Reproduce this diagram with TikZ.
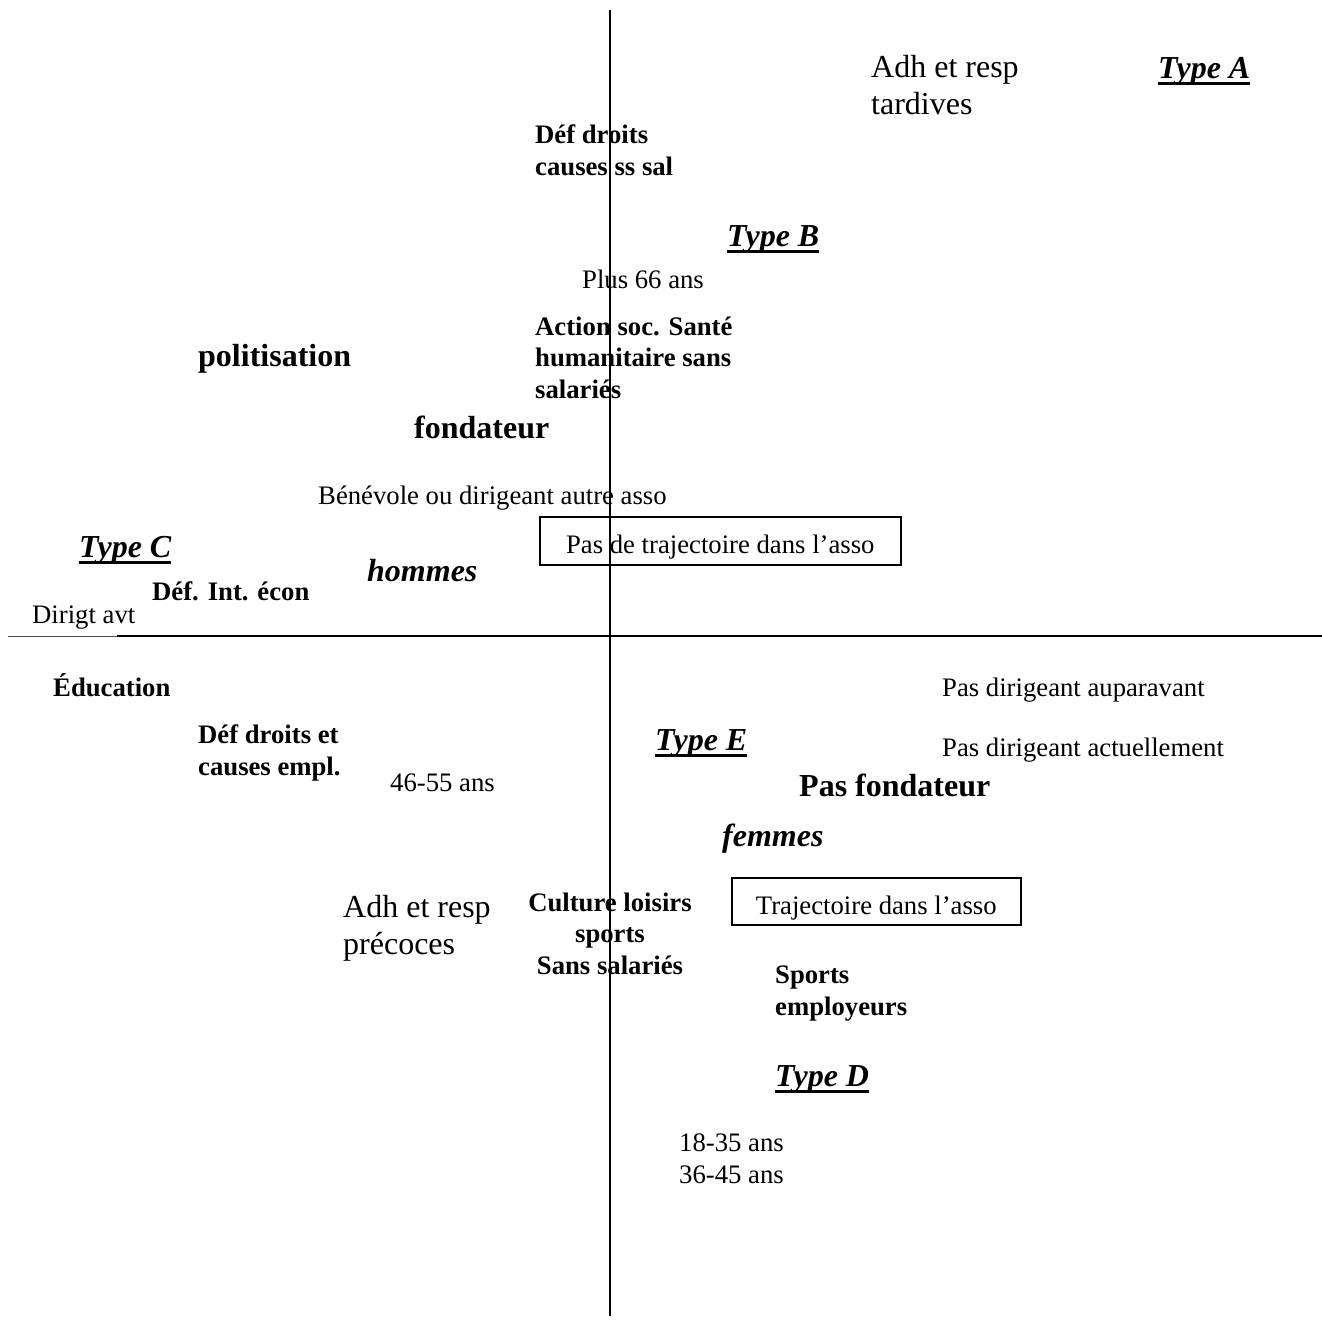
\documentclass[tikz,border=0pt]{standalone}
\usepackage{fontspec}
\setmainfont{Liberation Serif}
\newcommand{\myul}[1]{\setbox0\hbox{#1}\rlap{\rule[-6.8pt]{\wd0}{2.6pt}}\box0}
\begin{document}
\begin{tikzpicture}[x=1pt,y=-1pt,
  lbl/.style={inner sep=0pt, anchor=base west, align=left},
  sm/.style={lbl, font=\fontsize{26.7}{32}\selectfont},
  smb/.style={lbl, font=\fontsize{26.7}{31.5}\selectfont\bfseries},
  bg/.style={lbl, font=\fontsize{32}{37}\selectfont},
  bgb/.style={lbl, font=\fontsize{32}{37}\selectfont\bfseries},
  bgbi/.style={lbl, font=\fontsize{32}{37}\selectfont\bfseries\itshape},
  typ/.style={lbl, font=\fontsize{32}{37}\selectfont\bfseries\itshape},
  axis/.style={line width=1.8pt},
  boxed/.style={draw, line width=1.6pt, inner sep=0pt, anchor=north west, text height=26pt, text depth=0pt, font=\fontsize{26.7}{32}\selectfont}
]
\useasboundingbox (0,0) rectangle (1322,1326);
% axes
\coordinate (vt) at (610,10);
\coordinate (vb) at (610,1316);
\coordinate (hl) at (8,636);
\coordinate (hm) at (117,636);
\coordinate (hr) at (1322,636);
\draw[axis] (vt) -- (vb);
\draw[line width=1pt, black!70] (hl) -- (hm);
\draw[axis] (hm) -- (hr);

% boxes
\node[boxed, minimum width=361pt, minimum height=48pt] (box1) at (539,516) {Pas de trajectoire dans l’asso};
\node[boxed, minimum width=289pt, minimum height=47pt] (box2) at (731,877) {Trajectoire dans l’asso};

% labels (multi-line nodes: base = last line)
\node[bg] (adhT) at (871,114) {Adh et resp\\tardives};
\node[typ] (typeA) at (1158,78) {\myul{Type A}};
\node[smb] (defdr) at (535,175) {Déf droits\\causes ss sal};
\node[typ] (typeB) at (727,246) {\myul{Type B}};
\node[sm] (plus66) at (582,288) {Plus 66 ans};
\node[smb] (action) at (535,398) {Action soc. Santé\\humanitaire sans\\salariés};
\node[bgb] (polit) at (198,366) {politisation};
\node[bgb] (fond) at (414,438) {fondateur};
\node[sm] (benev) at (318,504) {Bénévole ou dirigeant autre asso};
\node[typ] (typeC) at (79,557) {\myul{Type C}};
\node[bgbi] (hommes) at (367,581) {hommes};
\node[smb] (defint) at (152,600) {Déf. Int. écon};
\node[sm] (dirigt) at (32,623) {Dirigt avt};
\node[smb] (educ) at (53,696) {Éducation};
\node[smb] (defdrE) at (198,775) {Déf droits et\\causes empl.};
\node[sm] (a4655) at (390,791) {46-55 ans};
\node[typ] (typeE) at (655,750) {\myul{Type E}};
\node[sm] (pdaup) at (942,696) {Pas dirigeant auparavant};
\node[sm] (pdact) at (942,756) {Pas dirigeant actuellement};
\node[bgb] (pasfond) at (799,796) {Pas fondateur};
\node[bgbi] (femmes) at (722,846) {femmes};
\node[bg] (adhP) at (343,954) {Adh et resp\\précoces};
\node[smb, anchor=base, align=center] (cult) at (610,974) {Culture loisirs\\sports\\Sans salariés};
\node[smb] (sports) at (775,1015) {Sports\\employeurs};
\node[typ] (typeD) at (775,1086) {\myul{Type D}};
\node[sm] (ages) at (679,1183) {18-35 ans\\36-45 ans};
\end{tikzpicture}
\end{document}
